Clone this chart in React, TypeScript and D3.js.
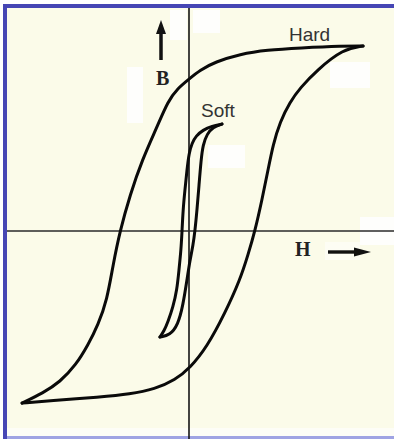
import React from "react";
import * as d3 from "d3";

// Magnetic hysteresis loops: B (flux density) vs H (field strength), arbitrary units.
type Pt = [number, number];

// Hard material: descending branch (positive saturation -> negative saturation)
const hardDescending: Pt[] = [
  [10.24, 10.28], [9.06, 10.28], [6.53, 10.17], [4.59, 10.06], [3.0, 9.83],
  [1.53, 9.39], [0.65, 8.94], [0, 8.44], [-0.65, 7.94], [-1.24, 7.22],
  [-1.88, 5.78], [-2.76, 3.94], [-3.47, 2.0], [-4.06, 0], [-4.47, -1.89],
  [-4.82, -3.83], [-5.35, -5.22], [-5.94, -6.33], [-6.65, -7.44], [-7.59, -8.39],
  [-8.59, -9.0], [-9.82, -9.56],
];

// Hard material: ascending branch (negative saturation -> positive saturation)
const hardAscending: Pt[] = [
  [-9.82, -9.56], [-8.18, -9.44], [-5.24, -9.22], [-3.47, -9.06], [-2.0, -8.78],
  [-0.82, -8.28], [0.06, -7.61], [1.06, -6.44], [2.12, -4.56], [3.0, -2.72],
  [3.47, -1.33], [3.88, 0], [4.29, 1.72], [4.65, 3.39], [4.94, 4.78],
  [5.35, 6.06], [5.94, 7.17], [6.53, 7.94], [7.53, 8.94], [9.06, 10.11],
  [10.24, 10.28],
];

// Soft material: descending branch
const softDescending: Pt[] = [
  [1.94, 5.94], [1.35, 5.83], [0.82, 5.61], [0.41, 5.28], [0.18, 4.89],
  [0, 4.33], [-0.12, 3.39], [-0.24, 2.28], [-0.35, 1.17], [-0.41, 0],
  [-0.47, -1.06], [-0.59, -2.17], [-0.71, -3.28], [-0.94, -4.22], [-1.24, -5.06],
  [-1.47, -5.56], [-1.71, -5.89],
];

// Soft material: ascending branch
const softAscending: Pt[] = [
  [-1.71, -5.89], [-1.12, -5.78], [-0.65, -5.22], [-0.35, -4.11], [-0.12, -2.72],
  [0.06, -1.61], [0.24, -0.78], [0.35, 0], [0.47, 1.17], [0.59, 2.56],
  [0.71, 3.94], [0.82, 4.78], [1.06, 5.39], [1.41, 5.78], [1.94, 5.94],
];

const loopLabels = ["Hard", "Soft"];
const axisLabels = ["B", "H"];

const W = 394;
const H = 439;

export default function App() {
  const x = d3.scaleLinear().domain([-10, 10]).range([19, 359]);
  const y = d3.scaleLinear().domain([-10, 10]).range([411, 51]);

  const line = d3
    .line<Pt>()
    .x((d) => x(d[0]))
    .y((d) => y(d[1]))
    .curve(d3.curveBasis);

  const x0 = x(0);
  const y0 = y(0);

  const branches = [hardDescending, hardAscending, softDescending, softAscending];

  return (
    <div style={{ position: "absolute", left: 0, top: 0 }}>
      <svg width={W} height={H} style={{ display: "block" }}>
        {/* page + panel */}
        <rect x={0} y={0} width={W} height={H} fill="#ffffff" />
        <rect x={3} y={4} width={W - 3} height={H - 4} fill="#fbfbe9" />
        <rect x={7} y={428} width={W - 7} height={9} fill="#fdfdf6" />

        {/* light patches */}
        <g fill="#ffffff" opacity={0.9}>
          <rect x={170} y={10} width={17} height={30} />
          <rect x={193} y={10} width={27} height={23} />
          <rect x={330} y={62} width={40} height={26} />
          <rect x={127} y={67} width={16} height={56} />
          <rect x={208} y={145} width={37} height={23} />
          <rect x={360} y={217} width={34} height={28} />
        </g>
        <rect x={325} y={242} width={35} height={18} fill="#ffffff" opacity={0.5} />

        {/* frame */}
        <rect x={3} y={4} width={W - 3} height={4} fill="#4646b4" />
        <rect x={3} y={4} width={4} height={H - 4} fill="#4646b4" />
        <rect x={7} y={436} width={W - 7} height={3} fill="#9fa3e3" />

        {/* axes */}
        <line x1={x0} x2={x0} y1={8} y2={H} stroke="#151515" strokeWidth={1.6} />
        <line x1={7} x2={W} y1={y0} y2={y0} stroke="#2a2a2a" strokeWidth={1.5} />

        {/* loops */}
        {branches.map((b, i) => (
          <path
            key={i}
            d={line(b) ?? ""}
            fill="none"
            stroke="#0a0a0a"
            strokeWidth={3}
            strokeLinecap="round"
            strokeLinejoin="round"
          />
        ))}

        {/* loop labels */}
        <text
          x={289}
          y={41}
          fontFamily="'Liberation Sans', Arial, sans-serif"
          fontSize={19}
          fill="#333"
        >
          {loopLabels[0]}
        </text>
        <text
          x={201}
          y={117}
          fontFamily="'Liberation Sans', Arial, sans-serif"
          fontSize={19}
          fill="#333"
        >
          {loopLabels[1]}
        </text>

        {/* B axis label with arrow */}
        <line x1={161} x2={161} y1={60} y2={31} stroke="#111" strokeWidth={3.5} />
        <polygon points="156,34 161,20 166,34" fill="#111" />
        <text
          x={156}
          y={85}
          fontFamily="'Liberation Serif', 'Times New Roman', serif"
          fontWeight="bold"
          fontSize={20}
          fill="#222"
        >
          {axisLabels[0]}
        </text>

        {/* H axis label with arrow */}
        <text
          x={295}
          y={256}
          fontFamily="'Liberation Serif', 'Times New Roman', serif"
          fontWeight="bold"
          fontSize={20}
          fill="#222"
        >
          {axisLabels[1]}
        </text>
        <line x1={328} x2={357} y1={252} y2={252} stroke="#111" strokeWidth={3.4} />
        <polygon points="354,247.5 371,252 354,256.5" fill="#111" />
      </svg>
    </div>
  );
}
